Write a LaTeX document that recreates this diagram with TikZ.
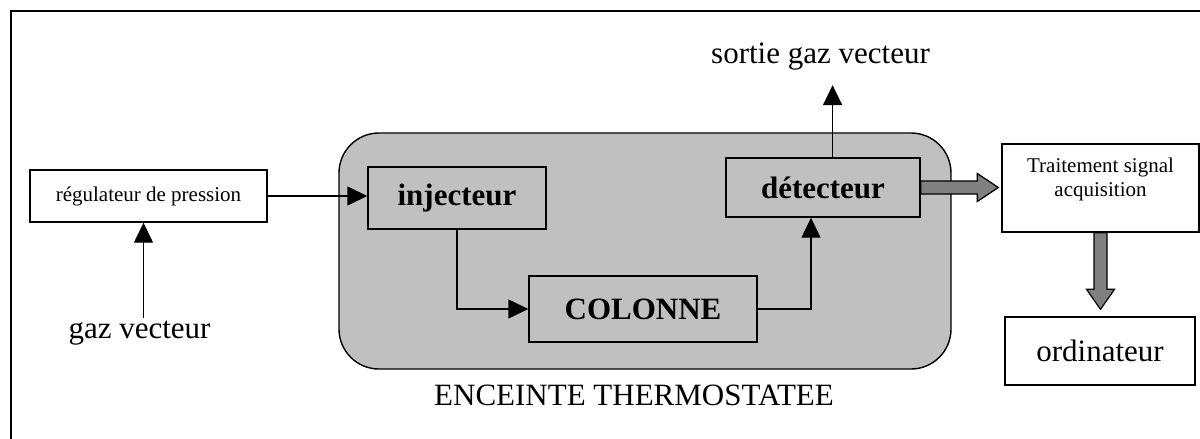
\documentclass[tikz,border=0pt]{standalone}
\usepackage{fontspec}
\setmainfont{Liberation Serif}
\usetikzlibrary{arrows.meta,positioning,calc}
\definecolor{ovengray}{RGB}{192,192,192}
\definecolor{fatgray}{RGB}{128,128,128}

\begin{document}
\begin{tikzpicture}[
    x=0.5pt, y=-0.5pt,
    >={Triangle[length=10pt,width=9.5pt]},
    every node/.style={font=\fontsize{15.5}{18}\selectfont},
    box/.style={rectangle, draw=black, line width=0.7pt, inner sep=0pt},
    smallbox/.style={box, fill=white, font=\fontsize{10.5}{12}\selectfont},
    ovenbox/.style={box, fill=ovengray, rounded corners=20pt},
    partbox/.style={box, font=\fontsize{15.5}{18}\selectfont\bfseries},
    txt/.style={inner sep=1pt, anchor=base},
    flow/.style={->, line width=0.7pt},
    fatarrow/.style={draw=black, fill=fatgray, line width=0.6pt, line join=miter}
]
    \useasboundingbox (0,0) rectangle (1200,439);
    \clip (0,0) rectangle (1200,439);
    \draw[line width=0.8pt] (11,11) rectangle (1220,460);

    % enceinte thermostatee
    \node (oven) [ovenbox, minimum width=306pt, minimum height=118pt] at (645,251) {};
    \node (ovenlbl) [txt] at (634,405) {ENCEINTE THERMOSTATEE};

    % boxes
    \node (reg) [smallbox, minimum width=118.5pt, minimum height=26pt] at (148.5,196) {régulateur de pression};
    \node (inj) [partbox, minimum width=89pt, minimum height=31pt] at (457,198) {injecteur};
    \node (col) [partbox, minimum width=114pt, minimum height=33pt] at (643,309) {COLONNE};
    \node (det) [partbox, minimum width=97pt, minimum height=29.5pt] at (823,187.5) {détecteur};
    \node (trait) [smallbox, minimum width=98.5pt, minimum height=44pt,
        label={[anchor=north, inner sep=0pt, yshift=-7.3pt, align=center, font=\fontsize{10.5}{12}\selectfont]north:{Traitement signal\\acquisition}}] at (1100.5,188) {};
    \node (ord) [box, fill=white, minimum width=95pt, minimum height=34pt] at (1100,351) {ordinateur};
    \node (gaz) [txt] at (139.5,338) {gaz vecteur};
    \node (sortie) [txt, inner sep=7.5pt] at (820.5,63) {sortie gaz vecteur};

    % gas flow
    \draw[flow] ([xshift=2pt]gaz.north) -- ([xshift=2pt]gaz.north |- reg.south);
    \draw[flow] (reg.east) -- (reg.east -| inj.west);
    \draw[flow] (inj.south) |- (col.west);
    \draw[flow] (col.east) -| ([xshift=-6pt]det.south);
    \draw[flow] ([xshift=4.8pt]det.north) -- ([xshift=4.8pt]det.north |- sortie.south);

    % signal
    \draw[fatarrow] ($(det.east)+(0,-6.5)$) -- ($(det.east -| trait.west)+(-24,-6.5)$) -- ++(0,-7.5)
        -- ($(det.east -| trait.west)+(-3,0)$) -- ($(det.east -| trait.west)+(-24,14)$) -- ++(0,-7.5)
        -- ($(det.east)+(0,6.5)$) -- cycle;
    \draw[fatarrow] ($(trait.south)+(-6.5,0)$) -- ($(trait.south |- ord.north)+(-6.5,-27)$) -- ++(-7.5,0)
        -- ($(trait.south |- ord.north)+(0,-7)$) -- ($(trait.south |- ord.north)+(14,-27)$) -- ++(-7.5,0)
        -- ($(trait.south)+(6.5,0)$) -- cycle;

\end{tikzpicture}
\end{document}
